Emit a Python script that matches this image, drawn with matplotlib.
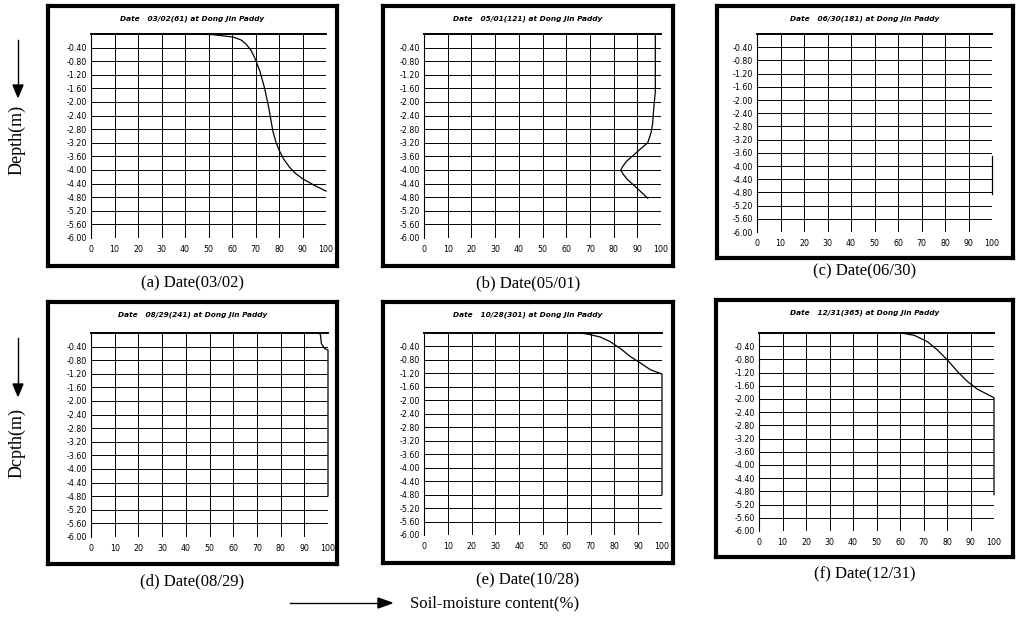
import numpy as np
import matplotlib
matplotlib.use("Agg")
import matplotlib.pyplot as plt

W, H = 1018, 622

# soil moisture content (%) vs depth (m) for each date
titles = ["Date   03/02(61) at Dong Jin Paddy", "Date   05/01(121) at Dong Jin Paddy",
          "Date   06/30(181) at Dong Jin Paddy", "Date   08/29(241) at Dong Jin Paddy",
          "Date   10/28(301) at Dong Jin Paddy", "Date   12/31(365) at Dong Jin Paddy"]
captions = ["(a) Date(03/02)", "(b) Date(05/01)", "(c) Date(06/30)",
            "(d) Date(08/29)", "(e) Date(10/28)", "(f) Date(12/31)"]

moist_a = [42.8, 52.0, 60.5, 64.0, 66.0, 68.0, 69.6, 71.8, 73.9, 75.7, 77.4, 78.8, 80.2, 82.0, 84.5, 87.0, 90.1, 95.0, 100.0]
depth_a = [0.00, -0.02, -0.09, -0.18, -0.30, -0.47, -0.69, -1.08, -1.60, -2.19, -2.86, -3.20, -3.44, -3.68, -3.92, -4.10, -4.26, -4.45, -4.62]
moist_b = [97.6, 97.6, 97.2, 96.8, 96.5, 95.8, 94.4, 91.0, 88.0, 85.5, 84.0, 83.0, 84.0, 85.7, 89.5, 94.4]
depth_b = [0.00, -1.70, -1.99, -2.30, -2.62, -2.90, -3.20, -3.40, -3.59, -3.74, -3.88, -4.00, -4.12, -4.27, -4.51, -4.83]
moist_c = [100.0, 100.0]
depth_c = [-3.70, -4.85]
moist_d = [95.8, 96.8, 97.2, 98.6, 100.0, 100.0]
depth_d = [0.00, -0.04, -0.31, -0.46, -0.50, -4.79]
moist_e = [65.7, 69.2, 74.1, 78.3, 82.5, 86.7, 90.9, 95.1, 99.3, 100.0, 100.0]
depth_e = [0.00, -0.04, -0.12, -0.26, -0.46, -0.70, -0.89, -1.09, -1.20, -1.23, -4.80]
moist_f = [60.5, 66.1, 71.8, 76.0, 80.2, 84.5, 88.7, 92.9, 97.2, 100.0, 100.0]
depth_f = [0.00, -0.07, -0.27, -0.52, -0.82, -1.17, -1.47, -1.70, -1.86, -1.96, -4.90]

moist = [moist_a, moist_b, moist_c, moist_d, moist_e, moist_f]
depth = [depth_a, depth_b, depth_c, depth_d, depth_e, depth_f]

x_ticks = list(range(0, 101, 10))
y_ticks = [-0.4, -0.8, -1.2, -1.6, -2.0, -2.4, -2.8, -3.2, -3.6, -4.0, -4.4, -4.8, -5.2, -5.6, -6.0]

# pixel boxes (left, top, right, bottom)
frames = [(48, 6, 337, 266), (383, 6, 673, 266), (717, 6, 1013, 258),
          (48, 302, 337, 564), (383, 302, 673, 563), (716, 300, 1013, 557)]
inner = [(91, 34, 326, 238), (424, 34, 661, 238), (757, 34, 992, 232),
         (91, 333, 328, 537), (424, 333, 662, 535), (759, 333, 994, 531)]


def box(b):
    l, t, r, bt = b
    return [l / W, 1 - bt / H, (r - l) / W, (bt - t) / H]


fig = plt.figure(figsize=(W / 100, H / 100), dpi=100)

for i in range(6):
    fr = fig.add_axes(box(frames[i]))
    fr.set_xticks([]), fr.set_yticks([])
    for s in fr.spines.values():
        s.set_linewidth(3)
    fl, ft, frr, fb = frames[i]
    fr.text(0.5, 1 - 13 / (fb - ft), titles[i], transform=fr.transAxes, ha='center', va='center',
            fontsize=5.3, style='italic', weight='bold')

    ax = fig.add_axes(box(inner[i]))
    ax.set_xlim(0, 100)
    ax.set_ylim(-6.0, 0.0)
    ax.set_xticks(x_ticks)
    ax.set_yticks(y_ticks)
    ax.set_yticklabels(["%.2f" % v for v in y_ticks])
    ax.tick_params(length=0, labelsize=5.7, pad=3)
    ax.tick_params(axis='x', pad=5)
    ax.grid(True, color='black', lw=0.7)
    ax.axhline(0, color='black', lw=1.4, clip_on=False)
    for s in ['top', 'right', 'bottom']:
        ax.spines[s].set_visible(False)
    ax.spines['left'].set_linewidth(0.8)
    ax.plot(moist[i], depth[i], color='black', lw=0.9, clip_on=False)

    cx = (fl + frr) / 2
    cy = fb + (17 if i != 2 else 13)
    fig.text(cx / W, 1 - cy / H, captions[i], ha='center', va='center',
             family='Liberation Serif', fontsize=12)

# axis descriptions with arrows
for yc, lab, a0, a1 in [(140, "Depth(m)", 40, 97), (443, "Dcpth(m)", 338, 396)]:
    fig.text(17 / W, 1 - yc / H, lab, rotation=90, ha='center', va='center',
             family='Liberation Serif', fontsize=13)
    fig.add_artist(plt.Line2D([18 / W, 18 / W], [1 - a0 / H, 1 - (a1 - 8) / H], color='black', lw=1))
    fig.add_artist(plt.Polygon([[13 / W, 1 - (a1 - 12) / H], [23 / W, 1 - (a1 - 12) / H], [18 / W, 1 - a1 / H]],
                               closed=True, color='black', transform=fig.transFigure))

fig.add_artist(plt.Line2D([290 / W, 380 / W], [1 - 603 / H, 1 - 603 / H], color='black', lw=1))
fig.add_artist(plt.Polygon([[378 / W, 1 - 598 / H], [378 / W, 1 - 608 / H], [392 / W, 1 - 603 / H]],
                           closed=True, color='black', transform=fig.transFigure))
fig.text(495 / W, 1 - 603 / H, "Soil-moisture content(%)", ha='center', va='center',
         family='Liberation Serif', fontsize=12)

fig.savefig("out.png", dpi=100)
